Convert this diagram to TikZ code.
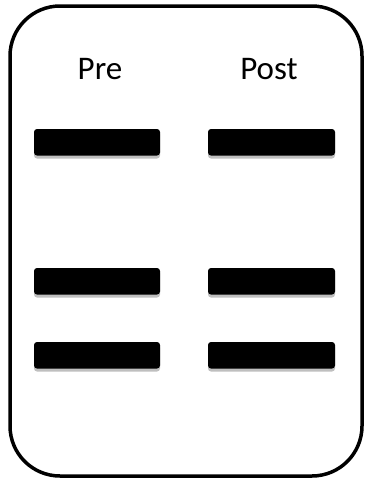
\documentclass[tikz,border=0pt]{standalone}
\usepackage{fontspec}
\setmainfont{Carlito}
\begin{document}
\begin{tikzpicture}[x=1pt,y=-1pt,
  bar/.style={fill=black,rounded corners=3pt},
  barshadow/.style={fill=black!25,rounded corners=3pt},
  lbl/.style={font=\fontsize{33}{36}\selectfont,anchor=base,inner sep=0pt}]
\useasboundingbox (0,0) rectangle (370,482);
\draw[line width=3.5pt,rounded corners=50pt] (10,6) rectangle (362,476);
\node[lbl] (pre) at (100,79) {Pre};
\node[lbl] (post) at (269,79) {Post};
\foreach \y/\n in {129/1,268/2,342/3}{
  \fill[barshadow] (34,\y+2.5) rectangle (160,\y+29.5);
  \fill[barshadow] (208,\y+2.5) rectangle (335,\y+29.5);
  \fill[bar] (34,\y) rectangle (160,\y+26.5);
  \fill[bar] (208,\y) rectangle (335,\y+26.5);
}
\end{tikzpicture}
\end{document}
